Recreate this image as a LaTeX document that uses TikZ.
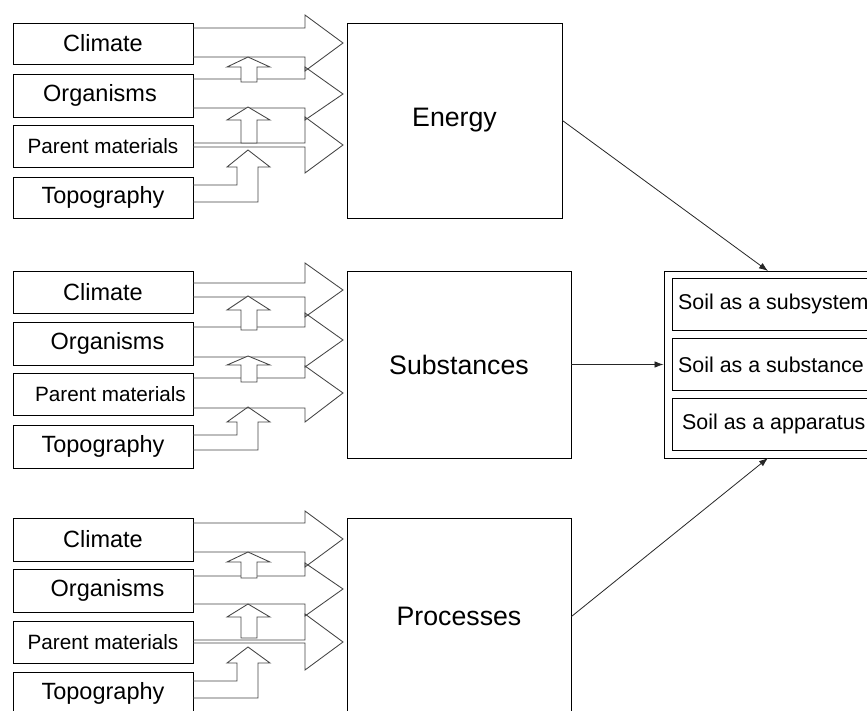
\documentclass[tikz,border=0pt]{standalone}
\usepackage{fontspec}
\setmainfont{Liberation Sans}
\usetikzlibrary{arrows.meta}
\definecolor{blkgray}{HTML}{444444}
\tikzset{
  lbox/.style={draw=black, line width=0.9pt, minimum width=180pt, inner sep=0pt, font=\fontsize{23.5}{27}\selectfont},
  pbox/.style={lbox, font=\fontsize{20.7}{24}\selectfont},
  bigbox/.style={draw=black, line width=0.9pt, inner sep=0pt, font=\fontsize{26.7}{31}\selectfont},
  soilbox/.style={draw=black, line width=0.9pt, inner sep=0pt},
  soiltxt/.style={anchor=west, inner sep=0pt, font=\fontsize{21.4}{25}\selectfont},
  blk/.style={draw=blkgray, line width=0.85pt, line join=miter},
  conn/.style={draw=black!85, line width=0.8pt, -{Latex[length=9pt,width=6.5pt]}}
}
\newcommand{\rblk}[5]{% yt yb ht hb tip
  \draw[blk] (193,#1) -- (305,#1) -- (305,#3) -- (343,#5) -- (305,#4) -- (305,#2) -- (193,#2);}
\newcommand{\ublk}[3]{% tip base bottom
  \draw[blk, fill=white] (241,#3) -- (241,#2) -- (227,#2) -- (248,#1) -- (270,#2) -- (257,#2) -- (257,#3) -- cycle;}
\newcommand{\bblk}[4]{% tip base l1 l2
  \draw[blk] (193,#3) -- (237,#3) -- (237,#2) -- (227,#2) -- (248,#1) -- (270,#2) -- (258,#2) -- (258,#4) -- (193,#4);}
\begin{document}
\begin{tikzpicture}[x=1pt,y=-1pt]
\clip (0,0) rectangle (867,711);
\fill[white] (0,0) rectangle (867,711);

% ---- top group
\node[lbox, minimum height=41pt] (c1) at (103,43.5) {Climate};
\node[lbox, minimum height=43pt] (o1) at (103,95.5) {Organisms\hspace*{6pt}};
\node[pbox, minimum height=42pt] (p1) at (103,146) {Parent materials};
\node[lbox, minimum height=41pt] (t1) at (103,197.5) {Topography};
\rblk{28}{57}{15}{71}{43}
\rblk{79}{108}{67}{120}{94}
\rblk{143}{147}{117}{173}{145}
\ublk{57}{67}{82}
\ublk{107}{120}{143}
\bblk{150}{167}{185}{202}
\node[bigbox, minimum width=215pt, minimum height=195pt] (energy) at (454.5,120.5) {Energy};

% ---- middle group
\node[lbox, minimum height=42pt] (c2) at (103,292) {Climate};
\node[lbox, minimum height=43pt] (o2) at (103,343.5) {\hspace*{9pt}Organisms};
\node[pbox, minimum height=42pt] (p2) at (103,394) {\hspace*{15pt}Parent materials};
\node[lbox, minimum height=43pt] (t2) at (103,446.5) {Topography};
\rblk{283}{297}{263}{317}{290}
\rblk{327}{357}{313}{367}{340}
\rblk{378}{408}{366}{422}{393}
\ublk{296}{310}{330}
\ublk{356}{365}{382}
\bblk{407}{422}{435}{450}
\node[bigbox, minimum width=224pt, minimum height=187pt] (subst) at (459,364.5) {Substances};

% ---- bottom group
\node[lbox, minimum height=43pt] (c3) at (103,539.5) {Climate};
\node[lbox, minimum height=43pt] (o3) at (103,590.5) {\hspace*{9pt}Organisms};
\node[pbox, minimum height=42pt] (p3) at (103,642) {Parent materials};
\node[lbox, minimum height=43pt] (t3) at (103,693.5) {Topography};
\rblk{523}{552}{511}{567}{539}
\rblk{576}{604}{563}{616}{589}
\rblk{640}{643}{614}{670}{642}
\ublk{552}{562}{578}
\ublk{604}{617}{638}
\bblk{647}{663}{681}{698}
\node[bigbox, minimum width=224pt, minimum height=197pt] (proc) at (459,616.5) {Processes};

% ---- soil box
\node[soilbox, minimum width=216pt, minimum height=187pt] (soil) at (772,364.5) {};
\node[soilbox, minimum width=208pt, minimum height=52pt] (s1) at (776,304) {};
\node[soilbox, minimum width=208pt, minimum height=52pt] (s2) at (776,364) {};
\node[soilbox, minimum width=208pt, minimum height=52pt] (s3) at (776,424) {};
\node[soiltxt] (t_s1) at (678,304) {Soil as a subsystem};
\node[soiltxt] (t_s2) at (678,364.5) {Soil as a substance};
\node[soiltxt] (t_s3) at (682,424) {Soil as a apparatus};

\coordinate (soiltop) at (768,271);
\coordinate (soilbot) at (768,458);
\draw[conn] (energy.east) -- (soiltop);
\draw[conn] (subst.east) -- (soil.west);
\draw[conn] (proc.east) -- (soilbot);
\end{tikzpicture}
\end{document}
